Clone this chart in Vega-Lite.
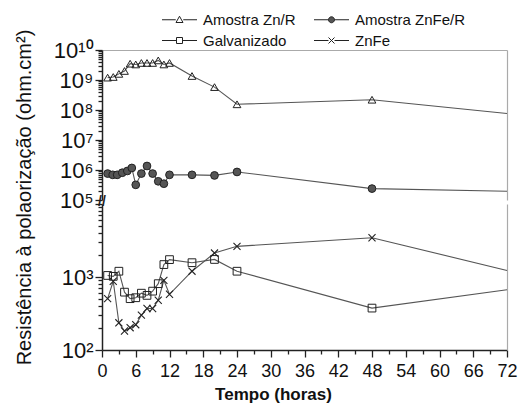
{
  "$schema": "https://vega.github.io/schema/vega-lite/v6.json",
  "padding": {"left": 13, "top": 12, "right": 9, "bottom": 6},
  "bounds": "flush",
  "config": {
    "font": "Liberation Sans",
    "view": {"stroke": null},
    "axis": {"domainColor": "#222", "domainWidth": 1.5, "tickColor": "#222", "tickWidth": 1.3, "labelColor": "#111", "titleColor": "#111", "grid": false}
  },
  "datasets": {
    "d": [
      {"s": "Amostra Zn/R", "t": 1, "v": 1200000000},
      {"s": "Amostra Zn/R", "t": 2, "v": 1260000000},
      {"s": "Amostra Zn/R", "t": 3, "v": 1600000000},
      {"s": "Amostra Zn/R", "t": 4, "v": 2000000000},
      {"s": "Amostra Zn/R", "t": 5, "v": 3500000000},
      {"s": "Amostra Zn/R", "t": 6, "v": 3300000000},
      {"s": "Amostra Zn/R", "t": 7, "v": 3700000000},
      {"s": "Amostra Zn/R", "t": 8, "v": 3700000000},
      {"s": "Amostra Zn/R", "t": 9, "v": 3700000000},
      {"s": "Amostra Zn/R", "t": 10, "v": 4500000000},
      {"s": "Amostra Zn/R", "t": 11, "v": 3300000000},
      {"s": "Amostra Zn/R", "t": 12, "v": 3700000000},
      {"s": "Amostra Zn/R", "t": 16, "v": 1360000000},
      {"s": "Amostra Zn/R", "t": 20, "v": 580000000},
      {"s": "Amostra Zn/R", "t": 24, "v": 155000000},
      {"s": "Amostra Zn/R", "t": 48, "v": 220000000},
      {"s": "Amostra Zn/R", "t": 72, "v": 76000000},
      {"s": "Amostra ZnFe/R", "t": 1, "v": 760000},
      {"s": "Amostra ZnFe/R", "t": 1.9, "v": 690000},
      {"s": "Amostra ZnFe/R", "t": 2.7, "v": 690000},
      {"s": "Amostra ZnFe/R", "t": 3.6, "v": 810000},
      {"s": "Amostra ZnFe/R", "t": 4.5, "v": 930000},
      {"s": "Amostra ZnFe/R", "t": 5.3, "v": 1170000},
      {"s": "Amostra ZnFe/R", "t": 6, "v": 320000},
      {"s": "Amostra ZnFe/R", "t": 7, "v": 760000},
      {"s": "Amostra ZnFe/R", "t": 8, "v": 1360000},
      {"s": "Amostra ZnFe/R", "t": 9, "v": 760000},
      {"s": "Amostra ZnFe/R", "t": 10, "v": 420000},
      {"s": "Amostra ZnFe/R", "t": 11, "v": 350000},
      {"s": "Amostra ZnFe/R", "t": 12, "v": 690000},
      {"s": "Amostra ZnFe/R", "t": 16, "v": 690000},
      {"s": "Amostra ZnFe/R", "t": 20, "v": 660000},
      {"s": "Amostra ZnFe/R", "t": 24, "v": 860000},
      {"s": "Amostra ZnFe/R", "t": 48, "v": 240000},
      {"s": "Amostra ZnFe/R", "t": 72, "v": 195000},
      {"s": "Galvanizado", "t": 1, "v": 1050},
      {"s": "Galvanizado", "t": 2, "v": 1020},
      {"s": "Galvanizado", "t": 3, "v": 1200},
      {"s": "Galvanizado", "t": 4, "v": 620},
      {"s": "Galvanizado", "t": 5, "v": 505},
      {"s": "Galvanizado", "t": 6, "v": 520},
      {"s": "Galvanizado", "t": 7, "v": 600},
      {"s": "Galvanizado", "t": 8, "v": 560},
      {"s": "Galvanizado", "t": 9, "v": 640},
      {"s": "Galvanizado", "t": 10, "v": 810},
      {"s": "Galvanizado", "t": 11, "v": 1480},
      {"s": "Galvanizado", "t": 12, "v": 1730},
      {"s": "Galvanizado", "t": 16, "v": 1570},
      {"s": "Galvanizado", "t": 20, "v": 1740},
      {"s": "Galvanizado", "t": 24, "v": 1200},
      {"s": "Galvanizado", "t": 48, "v": 375},
      {"s": "Galvanizado", "t": 72, "v": 670},
      {"s": "ZnFe", "t": 1, "v": 505},
      {"s": "ZnFe", "t": 2, "v": 875},
      {"s": "ZnFe", "t": 3, "v": 236},
      {"s": "ZnFe", "t": 4, "v": 182},
      {"s": "ZnFe", "t": 5, "v": 202},
      {"s": "ZnFe", "t": 6, "v": 222},
      {"s": "ZnFe", "t": 7, "v": 300},
      {"s": "ZnFe", "t": 8, "v": 370},
      {"s": "ZnFe", "t": 9, "v": 370},
      {"s": "ZnFe", "t": 10, "v": 480},
      {"s": "ZnFe", "t": 11, "v": 900},
      {"s": "ZnFe", "t": 12, "v": 580},
      {"s": "ZnFe", "t": 16, "v": 1200},
      {"s": "ZnFe", "t": 20, "v": 2130},
      {"s": "ZnFe", "t": 24, "v": 2630},
      {"s": "ZnFe", "t": 48, "v": 3450},
      {"s": "ZnFe", "t": 72, "v": 1230}
    ],
    "brk": [{"t": 0, "v": 100000, "label": "//"}]
  },
  "spacing": 4,
  "resolve": {"scale": {"x": "shared", "y": "independent"}, "axis": {"x": "independent", "y": "independent"}},
  "vconcat": [
    {
      "width": 405,
      "height": 150,
      "layer": [
        {
          "data": {"name": "d"},
          "transform": [{"filter": "datum.s === 'Amostra Zn/R' || datum.s === 'Amostra ZnFe/R'"}],
          "mark": {"type": "line", "color": "#555", "strokeWidth": 1.1},
          "encoding": {
            "x": {"field": "t", "type": "quantitative", "scale": {"domain": [0, 72], "nice": false, "zero": false},
              "axis": {"orient": "top", "labels": false, "ticks": false, "title": null, "domainColor": "#aaa", "domainWidth": 1.2}},
            "y": {"field": "v", "type": "quantitative", "scale": {"type": "log", "domain": [100000, 10000000000], "nice": false},
              "axis": {
                "values": [100000, 200000, 300000, 400000, 500000, 600000, 700000, 800000, 900000,
                  1000000, 2000000, 3000000, 4000000, 5000000, 6000000, 7000000, 8000000, 9000000,
                  10000000, 20000000, 30000000, 40000000, 50000000, 60000000, 70000000, 80000000, 90000000,
                  100000000, 200000000, 300000000, 400000000, 500000000, 600000000, 700000000, 800000000, 900000000,
                  1000000000, 2000000000, 3000000000, 4000000000, 5000000000, 6000000000, 7000000000, 8000000000, 9000000000,
                  10000000000],
                "labelExpr": "datum.value == 100000 ? '10⁵' : datum.value == 1000000 ? '10⁶' : datum.value == 10000000 ? '10⁷' : datum.value == 100000000 ? '10⁸' : datum.value == 1000000000 ? '10⁹' : datum.value == 10000000000 ? '10¹⁰' : ''",
                "labelFontSize": 22,
                "labelPadding": 2,
                "labelOverlap": false,
                "labelFlush": false,
                "tickSize": {"condition": {"test": "abs(log(datum.value)/LN10 - round(log(datum.value)/LN10)) < 0.001", "value": 7}, "value": 4},
                "title": "Resistência à polaorização (ohm.cm²)",
                "titleFontSize": 20,
                "titleFontWeight": "normal",
                "titleAngle": -90,
                "titleAlign": "center",
                "titleBaseline": "middle",
                "titleX": -78,
                "titleY": 147
              }},
            "detail": {"field": "s"}
          }
        },
        {
          "data": {"name": "d"},
          "transform": [{"filter": "datum.s === 'Amostra Zn/R' && datum.t < 72"}],
          "mark": {"type": "point", "shape": "triangle-up", "filled": false, "color": "#222", "strokeWidth": 1, "size": 60, "opacity": 1},
          "encoding": {
            "x": {"field": "t", "type": "quantitative", "axis": null},
            "y": {"field": "v", "type": "quantitative", "axis": {"orient": "right", "labels": false, "ticks": false, "title": null, "domainColor": "#aaa", "domainWidth": 1.2}}
          }
        },
        {
          "data": {"name": "d"},
          "transform": [{"filter": "datum.s === 'Amostra ZnFe/R' && datum.t < 72"}],
          "mark": {"type": "point", "shape": "circle", "filled": true, "fill": "#555", "stroke": "#222", "strokeWidth": 1, "size": 60, "opacity": 1},
          "encoding": {
            "x": {"field": "t", "type": "quantitative", "axis": null},
            "y": {"field": "v", "type": "quantitative", "axis": null}
          }
        },
        {
          "data": {"name": "d"},
          "transform": [{"filter": "datum.s === 'Amostra Zn/R' || datum.s === 'Amostra ZnFe/R'"}],
          "mark": {"type": "point", "opacity": 0, "size": 100},
          "encoding": {
            "x": {"field": "t", "type": "quantitative", "axis": null},
            "y": {"field": "v", "type": "quantitative", "axis": null},
            "shape": {"field": "s", "type": "nominal",
              "scale": {"domain": ["Amostra Zn/R", "Amostra ZnFe/R", "Galvanizado", "ZnFe"],
                "range": [
                  "M-3.5,0L-0.75,0M0.75,0L3.5,0M-0.7,0.55L0,-0.7L0.7,0.55Z",
                  "M-3.5,0L-0.6,0M0.6,0L3.5,0M-0.6,0A0.6,0.6,0,1,1,0.6,0A0.6,0.6,0,1,1,-0.6,0Z",
                  "M-3.5,0L-0.6,0M0.6,0L3.5,0M-0.6,-0.6L0.6,-0.6L0.6,0.6L-0.6,0.6Z",
                  "M-3.5,0L-0.6,0M0.6,0L3.5,0M-0.6,-0.6L0.6,0.6M-0.6,0.6L0.6,-0.6"]},
              "legend": {
                "orient": "none", "legendX": 70, "legendY": -38, "columns": 2, "direction": "horizontal", "title": null,
                "labelFontSize": 15, "labelColor": "#111", "symbolSize": 100, "labelOffset": 16, "columnPadding": 16, "rowPadding": 5,
                "symbolOpacity": 1, "symbolStrokeWidth": 1
              }},
            "fill": {"field": "s", "type": "nominal",
              "scale": {"domain": ["Amostra Zn/R", "Amostra ZnFe/R", "Galvanizado", "ZnFe"], "range": ["#ffffff", "#555555", "#ffffff", "#ffffff"]}},
            "stroke": {"field": "s", "type": "nominal",
              "scale": {"domain": ["Amostra Zn/R", "Amostra ZnFe/R", "Galvanizado", "ZnFe"], "range": ["#222222", "#222222", "#222222", "#222222"]}}
          }
        },
        {
          "data": {"name": "brk"},
          "mark": {"type": "text", "fontSize": 14, "fontWeight": "bold", "color": "#222", "dy": 2},
          "encoding": {
            "x": {"field": "t", "type": "quantitative", "axis": null},
            "y": {"field": "v", "type": "quantitative", "axis": null},
            "text": {"field": "label"}
          }
        }
      ],
      "resolve": {"axis": {"x": "independent", "y": "independent"}}
    },
    {
      "width": 405,
      "height": 146,
      "layer": [
        {
          "data": {"name": "d"},
          "transform": [{"filter": "datum.s === 'Galvanizado' || datum.s === 'ZnFe'"}],
          "mark": {"type": "line", "color": "#555", "strokeWidth": 1.1},
          "encoding": {
            "x": {"field": "t", "type": "quantitative", "scale": {"domain": [0, 72], "nice": false, "zero": false},
              "axis": {
                "values": [0, 3, 6, 9, 12, 15, 18, 21, 24, 27, 30, 33, 36, 39, 42, 45, 48, 51, 54, 57, 60, 63, 66, 69, 72],
                "labelExpr": "datum.value % 6 == 0 ? datum.label : ''",
                "tickSize": {"condition": {"test": "datum.value % 6 == 0", "value": 7}, "value": 4},
                "labelFontSize": 18,
                "labelPadding": 5,
                "labelFlush": false,
                "labelOverlap": false,
                "title": "Tempo (horas)",
                "titleFontSize": 17,
                "titleFontWeight": "bold",
                "titlePadding": 6,
                "titleX": 171
              }},
            "y": {"field": "v", "type": "quantitative", "scale": {"type": "log", "domain": [100, 10000], "nice": false},
              "axis": {
                "values": [100, 200, 300, 400, 500, 600, 700, 800, 900, 1000, 2000, 3000, 4000, 5000, 6000, 7000, 8000, 9000, 10000],
                "labelExpr": "datum.value == 100 ? '10²' : datum.value == 1000 ? '10³' : ''",
                "labelFontSize": 22,
                "labelPadding": 2,
                "labelOverlap": false,
                "labelFlush": false,
                "tickSize": {"condition": {"test": "datum.value == 100 || datum.value == 1000 || datum.value == 10000", "value": 7}, "value": 4},
                "title": null
              }},
            "detail": {"field": "s"}
          }
        },
        {
          "data": {"name": "d"},
          "transform": [{"filter": "datum.s === 'Galvanizado' && datum.t < 72"}],
          "mark": {"type": "point", "shape": "square", "filled": false, "color": "#222", "strokeWidth": 1, "size": 60, "opacity": 1},
          "encoding": {
            "x": {"field": "t", "type": "quantitative", "axis": null},
            "y": {"field": "v", "type": "quantitative", "axis": {"orient": "right", "labels": false, "ticks": false, "title": null, "domainColor": "#aaa", "domainWidth": 1.2}}
          }
        },
        {
          "data": {"name": "d"},
          "transform": [{"filter": "datum.s === 'ZnFe' && datum.t < 72"}],
          "mark": {"type": "point", "shape": "M-1,-1L1,1M-1,1L1,-1", "filled": false, "color": "#222", "strokeWidth": 1.1, "size": 50, "opacity": 1},
          "encoding": {
            "x": {"field": "t", "type": "quantitative", "axis": null},
            "y": {"field": "v", "type": "quantitative", "axis": null}
          }
        }
      ],
      "resolve": {"axis": {"x": "independent", "y": "independent"}}
    }
  ]
}
